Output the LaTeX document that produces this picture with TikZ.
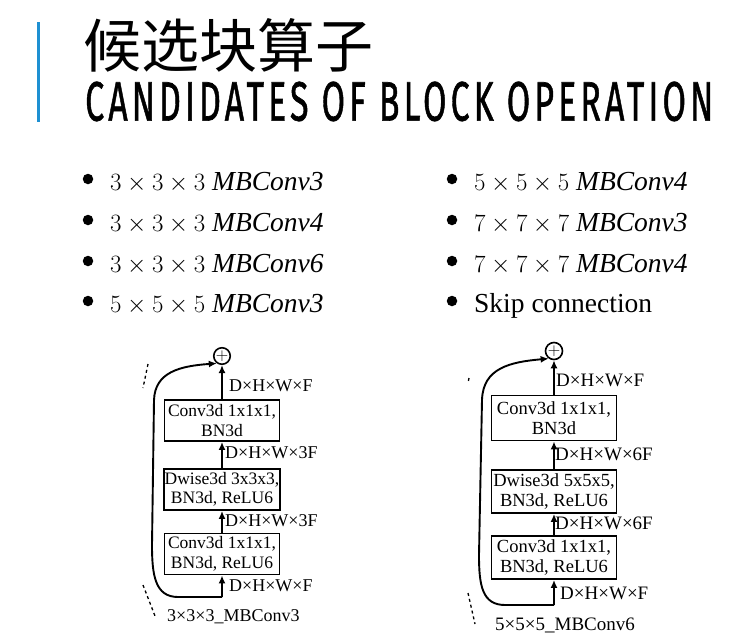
\documentclass[tikz,border=0pt]{standalone}
\usepackage[no-math]{fontspec}
\setmainfont{Liberation Serif}
\newfontfamily\cjk{Noto Sans CJK SC}
\newfontfamily\fira[LetterSpace=12,FakeBold=1.2]{Fira Sans}
\usetikzlibrary{arrows.meta}
\definecolor{barblue}{RGB}{30,144,210}
\newcommand{\mathpart}[1]{{\fontsize{29.5}{30}\selectfont$#1$}}
\tikzset{
  opbox/.style={draw, line width=1.9pt, align=center, inner sep=1pt, font=\fontsize{17.5}{19.5}\selectfont},
  opboxR/.style={opbox, font=\fontsize{18.5}{20.5}\selectfont},
  addnode/.style={draw, circle, line width=1.6pt, inner sep=0pt, font=\fontsize{18}{18}\selectfont},
  dimlab/.style={anchor=west, inner sep=0pt, font=\fontsize{18}{18}\selectfont},
  dimlabR/.style={anchor=west, inner sep=0pt, font=\fontsize{19}{19}\selectfont},
  arr/.style={line width=1.9pt, -{Latex[length=8pt,width=7pt]}},
  dashmark/.style={line width=1.3pt, dash pattern=on 3pt off 3pt},
  item/.style={anchor=base west, inner sep=0pt, font=\fontsize{27.5}{30}\selectfont},
  dot/.style={circle, fill, inner sep=0pt, minimum size=10.5pt},
}
\begin{document}
\begin{tikzpicture}[x=1pt,y=-1pt]
\useasboundingbox (0,0) rectangle (740,643);
\fill[white] (0,0) rectangle (740,643);
% title
\fill[barblue] (37,22) rectangle (40,122);
\node[anchor=base west, inner sep=0pt] (tcn) at (83,67) {\fontsize{58}{58}\cjk 候选块算子};
\node[anchor=south west, inner sep=0pt] (ten) at (85,121.5) {\resizebox{628pt}{39pt}{\fira CANDIDATES OF BLOCK OPERATION}};
% list
\node[dot] (b1) at (88,179) {};
\node[item] (i1) at (110,190) {\mathpart{3\times3\times3} \textit{MBConv3}};
\node[dot] (b2) at (88,220) {};
\node[item] (i2) at (110,231) {\mathpart{3\times3\times3} \textit{MBConv4}};
\node[dot] (b3) at (88,261) {};
\node[item] (i3) at (110,272) {\mathpart{3\times3\times3} \textit{MBConv6}};
\node[dot] (b4) at (88,301) {};
\node[item] (i4) at (110,312) {\mathpart{5\times5\times5} \textit{MBConv3}};
\node[dot] (b5) at (452,179) {};
\node[item] (i5) at (474,190) {\mathpart{5\times5\times5} \textit{MBConv4}};
\node[dot] (b6) at (452,220) {};
\node[item] (i6) at (474,231) {\mathpart{7\times7\times7} \textit{MBConv3}};
\node[dot] (b7) at (452,261) {};
\node[item] (i7) at (474,272) {\mathpart{7\times7\times7} \textit{MBConv4}};
\node[dot] (b8) at (452,301) {};
\node[item] (i8) at (474,312) {Skip connection};
% left diagram
\node[addnode, minimum size=16pt] (pL) at (222,356) {$+$};
\node[opbox, minimum width=115pt, minimum height=41pt] (tL) at (222,420.5) {Conv3d 1x1x1,\\BN3d};
\node[opbox, minimum width=115pt, minimum height=41pt] (mL) at (222,489.5) {Dwise3d 3x3x3,\\BN3d, ReLU6};
\node[opbox, minimum width=115pt, minimum height=41pt] (bL) at (222,554) {Conv3d 1x1x1,\\BN3d, ReLU6};
\coordinate (inL) at (222,597);
\draw[arr] (inL) -- (bL.south);
\draw[arr] (bL.north) -- (mL.south);
\draw[arr] (mL.north) -- (tL.south);
\draw[arr] (tL.north) -- (pL.south);
\draw[arr] (inL) -- (178,597) .. controls (155,597) and (152,575) .. (152,545) -- (154,400) .. controls (155,372) and (180,366) .. (pL.235);
\node[dimlab] (lL1) at (229,386) {D×H×W×F};
\node[dimlab] (lL2) at (225,453) {D×H×W×3F};
\node[dimlab] (lL3) at (225,521) {D×H×W×3F};
\node[dimlab] (lL4) at (229,586) {D×H×W×F};
\node[dimlab] (cL) at (167,617) {3×3×3\_MBConv3};
\draw[dashmark] (148,364) -- (143,388);
\draw[dashmark] (143,585) -- (155,616);
% right diagram
\node[addnode, minimum size=17pt] (pR) at (554,351) {$+$};
\node[opboxR, minimum width=125pt, minimum height=45pt] (tR) at (554,418) {Conv3d 1x1x1,\\BN3d};
\node[opboxR, minimum width=125pt, minimum height=43pt] (mR) at (554,491.5) {Dwise3d 5x5x5,\\BN3d, ReLU6};
\node[opboxR, minimum width=125pt, minimum height=43pt] (bR) at (554,557.5) {Conv3d 1x1x1,\\BN3d, ReLU6};
\coordinate (inR) at (554,605);
\draw[arr] (inR) -- (bR.south);
\draw[arr] (bR.north) -- (mR.south);
\draw[arr] (mR.north) -- (tR.south);
\draw[arr] (tR.north) -- (pR.south);
\draw[arr] (inR) -- (505,605) .. controls (482,605) and (479,585) .. (479,555) -- (482,400) .. controls (483,368) and (510,362) .. (pR.235);
\node[dimlabR] (lR1) at (556,380) {D×H×W×F};
\node[dimlabR] (lR2) at (555,454) {D×H×W×6F};
\node[dimlabR] (lR3) at (555,523) {D×H×W×6F};
\node[dimlabR] (lR4) at (560,593) {D×H×W×F};
\node[dimlabR] (cR) at (495,625) {5×5×5\_MBConv6};
\draw[dashmark] (469,378) -- (468,383);
\draw[dashmark] (468,593) -- (475,624);
\end{tikzpicture}
\end{document}
